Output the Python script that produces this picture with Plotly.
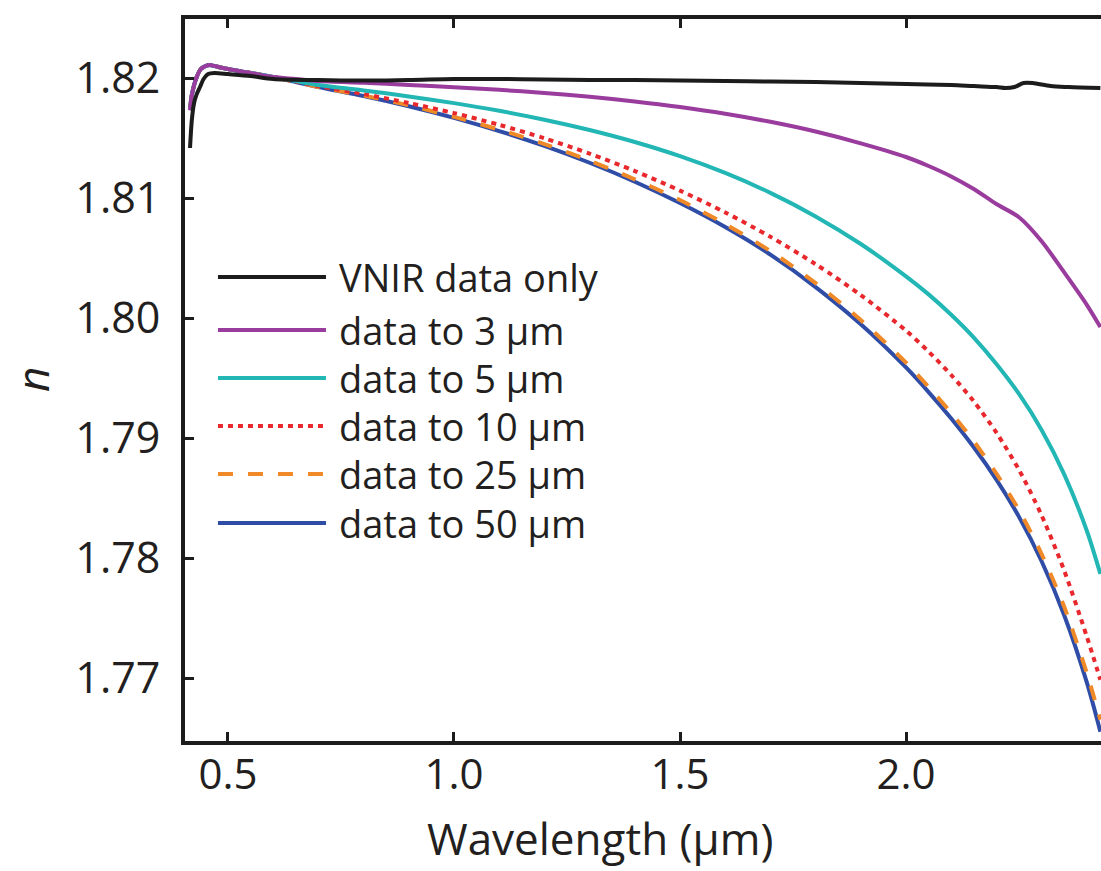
import plotly.graph_objects as go

# ---------------- data ----------------
wl_vnir = [0.416, 0.420, 0.425, 0.430, 0.438, 0.446, 0.456, 0.470, 0.50, 0.55, 0.60,
           0.70, 0.80, 0.90, 1.00, 1.10, 1.20, 1.30, 1.40, 1.50, 1.60, 1.70, 1.80,
           1.90, 2.00, 2.10, 2.15, 2.20, 2.22, 2.24, 2.26, 2.28, 2.32, 2.36, 2.43]
n_vnir = [1.81417, 1.81650, 1.81792, 1.81858, 1.81925, 1.81992, 1.82033, 1.82042, 1.82033,
          1.82017, 1.81992, 1.81983, 1.81979, 1.81983, 1.81992, 1.81992, 1.81988, 1.81983,
          1.81983, 1.81979, 1.81975, 1.81971, 1.81967, 1.81958, 1.81950, 1.81942, 1.81933,
          1.81925, 1.81917, 1.81925, 1.81958, 1.81958, 1.81933, 1.81925, 1.81917]

wl = [0.416, 0.42, 0.43, 0.44, 0.45, 0.46, 0.47, 0.50, 0.55, 0.60, 0.65,
      0.70, 0.80, 0.90, 1.00, 1.10, 1.20, 1.30, 1.40, 1.50, 1.60, 1.70, 1.80,
      1.90, 2.00, 2.05, 2.10, 2.15, 2.20, 2.25, 2.30, 2.35, 2.40, 2.43]

n_3um = [1.81733, 1.81858, 1.82000, 1.82075, 1.82100, 1.82108, 1.82100, 1.82075, 1.82042, 1.82008, 1.81992,
         1.81975, 1.81960, 1.81943, 1.81924, 1.81902, 1.81876, 1.81844, 1.81805, 1.81758, 1.81702,
         1.81635, 1.81554, 1.81456, 1.81342, 1.81267, 1.81180, 1.81075, 1.80950, 1.80840, 1.80640,
         1.80380, 1.80110, 1.79925]
n_5um = [1.81733, 1.81858, 1.82000, 1.82075, 1.82100, 1.82108, 1.82100, 1.82075, 1.82042, 1.82008, 1.81975,
         1.81942, 1.81897, 1.81847, 1.81791, 1.81727, 1.81653, 1.81567, 1.81467, 1.81349, 1.81209,
         1.81043, 1.80847, 1.80617, 1.80347, 1.80197, 1.80027, 1.79837, 1.79617, 1.79367, 1.79067,
         1.78697, 1.78227, 1.77867]
n_10um = [1.81733, 1.81858, 1.82000, 1.82075, 1.82100, 1.82108, 1.82100, 1.82075, 1.82042, 1.82008, 1.81970,
          1.81933, 1.81867, 1.81792, 1.81708, 1.81610, 1.81498, 1.81370, 1.81225, 1.81062, 1.80880,
          1.80677, 1.80449, 1.80191, 1.79895, 1.79720, 1.79525, 1.79305, 1.79045, 1.78735, 1.78355,
          1.77895, 1.77345, 1.76985]
n_25um = [1.81733, 1.81858, 1.82000, 1.82075, 1.82100, 1.82108, 1.82100, 1.82075, 1.82042, 1.82008, 1.81967,
          1.81925, 1.81854, 1.81773, 1.81676, 1.81570, 1.81450, 1.81311, 1.81156, 1.80983, 1.80783,
          1.80558, 1.80291, 1.79983, 1.79628, 1.79425, 1.79209, 1.78973, 1.78703, 1.78398, 1.78033,
          1.77593, 1.77041, 1.76653]
n_50um = [1.81733, 1.81858, 1.82000, 1.82075, 1.82100, 1.82108, 1.82100, 1.82075, 1.82042, 1.82008, 1.81967,
          1.81925, 1.81850, 1.81765, 1.81668, 1.81558, 1.81434, 1.81294, 1.81136, 1.80958, 1.80758,
          1.80528, 1.80258, 1.79948, 1.79588, 1.79383, 1.79163, 1.78923, 1.78653, 1.78343, 1.77973,
          1.77523, 1.76963, 1.76553]

labels = ["VNIR data only", "data to 3 μm", "data to 5 μm",
          "data to 10 μm", "data to 25 μm", "data to 50 μm"]
colors = ["#1c1c1c", "#9a3c9e", "#22b6b4", "#e8282c", "#f08a28", "#2f4ca6"]
dashes = ["solid", "solid", "solid", "5px,5px", "15px,15px", "solid"]

x_ticks = [0.5, 1.0, 1.5, 2.0]
x_ticktext = ["0.5", "1.0", "1.5", "2.0"]
y_ticks = [1.77, 1.78, 1.79, 1.80, 1.81, 1.82]
y_ticktext = ["1.77", "1.78", "1.79", "1.80", "1.81", "1.82"]

FONT = "Open Sans"
TXT = "#231f20"

series = [
    (wl_vnir, n_vnir), (wl, n_3um), (wl, n_5um),
    (wl, n_10um), (wl, n_25um), (wl, n_50um),
]

fig = go.Figure()
# draw order: blue first, black last
for i in [5, 4, 3, 2, 1, 0]:
    xs, ys = series[i]
    fig.add_trace(go.Scatter(
        x=xs, y=ys, mode="lines", name=labels[i],
        line=dict(color=colors[i], width=4, dash=dashes[i], shape="spline", smoothing=0.8),
        showlegend=False,
    ))

# manual legend (long line samples like the reference)
leg_y = [0.6427, 0.5693, 0.5028, 0.4363, 0.3698, 0.3019]
for i in range(6):
    fig.add_shape(type="line", xref="paper", yref="paper",
                  x0=0.036, x1=0.1539, y0=leg_y[i], y1=leg_y[i],
                  line=dict(color=colors[i], width=4, dash=dashes[i]))
    fig.add_annotation(xref="paper", yref="paper", x=0.166, y=leg_y[i],
                       xanchor="left", yanchor="middle", showarrow=False,
                       text=labels[i], font=dict(family=FONT, size=38, color=TXT))

# axis titles
fig.add_annotation(xref="paper", yref="paper", x=(600 - 185) / 916, y=(741 - 838) / 722,
                   xanchor="center", yanchor="middle", showarrow=False,
                   text="Wavelength (μm)", font=dict(family=FONT, size=44, color=TXT))
fig.add_annotation(xref="paper", yref="paper", x=(32 - 185) / 916, y=0.5,
                   xanchor="center", yanchor="middle", showarrow=False, textangle=-90,
                   text="<i>n</i>", font=dict(family=FONT, size=44, color=TXT))

axis_common = dict(
    showgrid=False, zeroline=False, showline=True, linewidth=4, linecolor="#1c1c1c",
    ticks="inside", ticklen=9, tickwidth=3, tickcolor="#1c1c1c",
)

fig.update_layout(
    width=1101, height=871,
    margin=dict(l=185, r=0, t=19, b=130),
    paper_bgcolor="white", plot_bgcolor="white",
    showlegend=False,
    xaxis=dict(range=[0.4049, 2.4314], tickvals=x_ticks, ticktext=x_ticktext,
               mirror="ticks", ticklabelstandoff=-6,
               tickfont=dict(family=FONT, size=42, color=TXT), **axis_common),
    yaxis=dict(range=[1.76475, 1.82492], tickvals=y_ticks, ticktext=y_ticktext,
               mirror=False, ticklabelstandoff=12,
               tickfont=dict(family=FONT, size=43, color=TXT), **axis_common),
)

fig.write_html("out.html")
